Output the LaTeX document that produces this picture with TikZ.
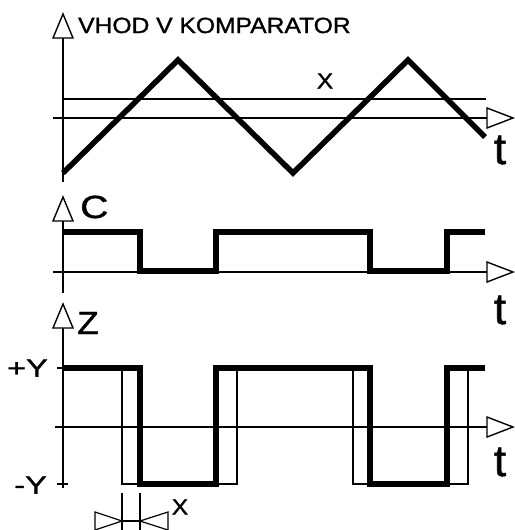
\documentclass[tikz,border=0pt]{standalone}
\usepackage{fontspec}
\setmainfont{Liberation Sans}[FakeBold=1.2]
\begin{document}
\begin{tikzpicture}[
    x=1pt, y=-1pt,
    line cap=butt,
    os/.style={draw, line width=1.4pt},
    tanka/.style={draw, line width=1.4pt},
    signal/.style={draw, line width=5.5pt, line join=miter},
    mera/.style={draw, line width=1.2pt},
    napis/.style={inner sep=0pt, font=\fontsize{22}{22}\selectfont},
    velik/.style={inner sep=0pt, font=\fontsize{32}{32}\selectfont},
    oznaka/.style={inner sep=0pt, font=\fontsize{25}{25}\selectfont},
    cas/.style={inner sep=0pt, font=\fontsize{44}{44}\selectfont},
    pics/gor/.style={
        code={
            \draw[line width=1.4pt, fill=white] (-10,0) -- (0,-24) -- (10,0) -- cycle;
        }
    },
    pics/desno/.style={
        code={
            \draw[line width=1.4pt, fill=white] (0,-10) -- (26,0) -- (0,10) -- cycle;
        }
    }
]
\useasboundingbox (0,0) rectangle (514,530);

% Vhod v komparator
\draw[os] (63,38) -- (63,182);
\draw[os] (53,118) -- (487,118);
\pic at (63,38) {gor};
\pic at (487,118) {desno};
\draw[tanka] (63,99) -- (486,99);
\draw[signal] (63,173) -- (178,60) -- (293,173) -- (408,60) -- (485,137);
\node[napis, anchor=base west] (vhod) at (78,33) {\scalebox{1.12}[1]{VHOD V KOMPARATOR}};
\node[napis] (prag) at (325,81) {\scalebox{1.12}[1]{X}};
\node[cas] (t1) at (500,150) {t};

% Izhod komparatorja C
\draw[os] (63,221) -- (63,293);
\draw[os] (53,272) -- (487,272);
\pic at (63,221) {gor};
\pic at (487,272) {desno};
\draw[signal] (63,232) -- (140,232) -- (140,271) -- (216,271) -- (216,232)
    -- (370,232) -- (370,271) -- (447,271) -- (447,232) -- (485,232);
\node[velik, anchor=base west] (c) at (80,218) {\scalebox{1.22}[1]{C}};
\node[cas] (t2) at (500,310) {t};

% Izhod Z
\draw[os] (63,328) -- (63,488);
\draw[os] (55,427) -- (487,427);
\pic at (63,328) {gor};
\pic at (487,427) {desno};
\draw[os] (57,368) -- (63,368);
\draw[os] (57,484) -- (68,484);
\draw[tanka] (63,368) -- (122,368) -- (122,484) -- (237,484) -- (237,368)
    -- (353,368) -- (353,484) -- (468,484) -- (468,368) -- (485,368);
\draw[signal] (63,368) -- (140,368) -- (140,484) -- (216,484) -- (216,368)
    -- (370,368) -- (370,484) -- (447,484) -- (447,368) -- (485,368);
\node[velik, anchor=base west] (z) at (77,334) {\scalebox{1.1}[1]{Z}};
\node[oznaka, anchor=east] (plus) at (48,368) {\scalebox{1.3}[1]{+Y}};
\node[oznaka, anchor=east] (minus) at (47,485) {\scalebox{1.3}[1]{-Y}};
\node[cas] (t3) at (500,462) {t};

% Zamik X
\draw[mera] (122,493) -- (122,532);
\draw[mera] (140,493) -- (140,532);
\draw[mera] (122,521) -- (140,521);
\draw[mera] (122,521) -- (95,512) -- (95,532);
\draw[mera] (122,521) -- (95,530);
\draw[mera] (140,521) -- (168,512) -- (168,532);
\draw[mera] (140,521) -- (168,530);
\node[napis] (zamik) at (180,507) {\scalebox{1.12}[1]{X}};
\end{tikzpicture}
\end{document}
